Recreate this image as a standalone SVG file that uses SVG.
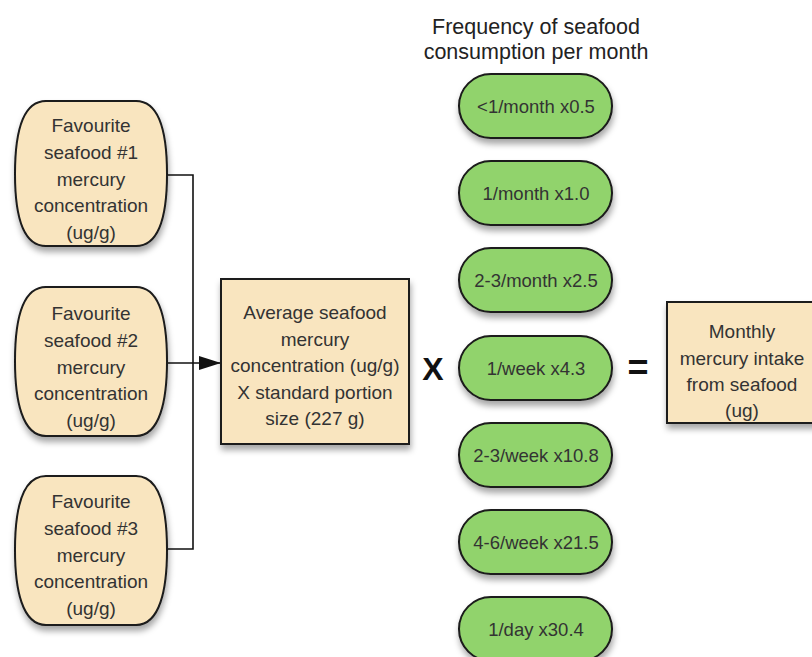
<svg xmlns="http://www.w3.org/2000/svg" width="812" height="657" viewBox="0 0 812 657">
<style>
.t{font-family:"Liberation Sans",Arial,sans-serif;font-size:19px;fill:#333;text-anchor:middle}
.p{font-family:"Liberation Sans",Arial,sans-serif;font-size:18.5px;fill:#333;text-anchor:middle}
.h{font-family:"Liberation Sans",Arial,sans-serif;font-size:21.5px;fill:#222;text-anchor:middle}
.beige{fill:#f9e5bf;stroke:#1a1a1a;stroke-width:2}
.green{fill:#91d36c;stroke:#1a1a1a;stroke-width:2}
.c{fill:none;stroke:#111;stroke-width:1.6}
</style>
<defs>
<filter id="sh" x="-20%" y="-20%" width="140%" height="150%">
<feDropShadow dx="1" dy="5" stdDeviation="3" flood-color="#000" flood-opacity="0.35"/>
</filter>
<marker id="ar2" viewBox="0 0 22 14" refX="22" refY="7" markerWidth="22" markerHeight="14" markerUnits="userSpaceOnUse" orient="auto">
<path d="M0,0 L22,7 L0,14 Z" fill="#111"/>
</marker>
</defs>

<g id="title">
<text class="h" x="536" y="34">Frequency of seafood</text>
<text class="h" x="536" y="59">consumption per month</text>
</g>

<g id="connectors">
<path class="c" d="M167,175 H193 V549 H167"/>
<path class="c" d="M167,363 H221" marker-end="url(#ar2)"/>
</g>

<g id="fav1">
<path class="beige" filter="url(#sh)" d="M46,101 H136 C160,101 167,135 167,174 C167,213 160,246 136,246 H46 C22,246 15,213 15,174 C15,135 22,101 46,101 Z"/>
<text class="t" x="91" y="132">Favourite</text>
<text class="t" x="91" y="159">seafood #1</text>
<text class="t" x="91" y="186">mercury</text>
<text class="t" x="91" y="212">concentration</text>
<text class="t" x="91" y="239">(ug/g)</text>
</g>

<g id="fav2">
<path class="beige" filter="url(#sh)" d="M46,287 H136 C160,287 167,322 167,361 C167,400 160,436 136,436 H46 C22,436 15,400 15,361 C15,322 22,287 46,287 Z"/>
<text class="t" x="91" y="320">Favourite</text>
<text class="t" x="91" y="347">seafood #2</text>
<text class="t" x="91" y="374">mercury</text>
<text class="t" x="91" y="400">concentration</text>
<text class="t" x="91" y="427">(ug/g)</text>
</g>

<g id="fav3">
<path class="beige" filter="url(#sh)" d="M46,476 H136 C160,476 167,511 167,550 C167,589 160,625 136,625 H46 C22,625 15,589 15,550 C15,511 22,476 46,476 Z"/>
<text class="t" x="91" y="508">Favourite</text>
<text class="t" x="91" y="535">seafood #3</text>
<text class="t" x="91" y="562">mercury</text>
<text class="t" x="91" y="588">concentration</text>
<text class="t" x="91" y="615">(ug/g)</text>
</g>

<g id="average">
<rect class="beige" filter="url(#sh)" x="221" y="279" width="188" height="165"/>
<text class="t" x="315" y="319">Average seafood</text>
<text class="t" x="315" y="346">mercury</text>
<text class="t" x="315" y="372">concentration (ug/g)</text>
<text class="t" x="315" y="399">X standard portion</text>
<text class="t" x="315" y="425">size (227 g)</text>
</g>

<g id="times">
<text x="433" y="380" font-family="Liberation Sans,Arial,sans-serif" font-size="32" font-weight="bold" fill="#111" text-anchor="middle">X</text>
</g>

<g id="f1"><rect class="green" filter="url(#sh)" x="459" y="74" width="153" height="64" rx="32"/><text class="p" x="536" y="113">&lt;1/month x0.5</text></g>
<g id="f2"><rect class="green" filter="url(#sh)" x="459" y="161" width="153" height="64" rx="32"/><text class="p" x="536" y="200">1/month x1.0</text></g>
<g id="f3"><rect class="green" filter="url(#sh)" x="459" y="248" width="153" height="64" rx="32"/><text class="p" x="536" y="287">2-3/month x2.5</text></g>
<g id="f4"><rect class="green" filter="url(#sh)" x="459" y="336" width="153" height="64" rx="32"/><text class="p" x="536" y="375">1/week x4.3</text></g>
<g id="f5"><rect class="green" filter="url(#sh)" x="459" y="423" width="153" height="64" rx="32"/><text class="p" x="536" y="462">2-3/week x10.8</text></g>
<g id="f6"><rect class="green" filter="url(#sh)" x="459" y="510" width="153" height="64" rx="32"/><text class="p" x="536" y="549">4-6/week x21.5</text></g>
<g id="f7"><rect class="green" filter="url(#sh)" x="459" y="597" width="153" height="64" rx="32"/><text class="p" x="536" y="636">1/day x30.4</text></g>

<g id="equals">
<text x="638" y="380" font-family="Liberation Sans,Arial,sans-serif" font-size="36" font-weight="bold" fill="#111" text-anchor="middle">=</text>
</g>

<g id="monthly">
<rect class="beige" filter="url(#sh)" x="667" y="302" width="152" height="121"/>
<text class="t" x="742" y="338">Monthly</text>
<text class="t" x="742" y="365">mercury intake</text>
<text class="t" x="742" y="391">from seafood</text>
<text class="t" x="742" y="417">(ug)</text>
</g>
</svg>
